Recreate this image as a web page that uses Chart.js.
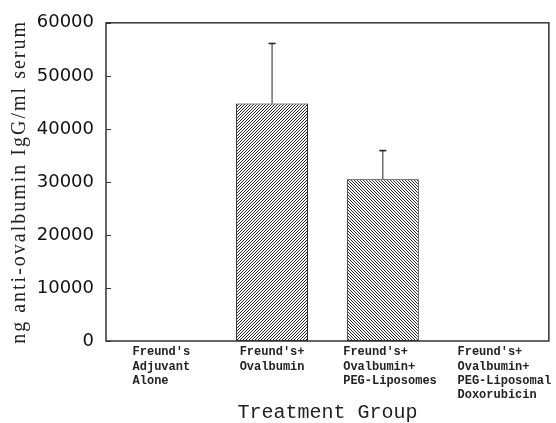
<!DOCTYPE html>
<html>
<head>
<meta charset="utf-8">
<script src="https://cdn.jsdelivr.net/npm/chart.js@4.4.1/dist/chart.umd.min.js"></script>
<style>
  html, body { margin: 0; padding: 0; background: #fff; }
  #wrap { width: 556px; height: 423px; }
</style>
</head>
<body>
<div id="wrap"><canvas id="c" width="556" height="423"></canvas></div>
<script>
// Treatment groups (multi-line labels, padded so the lines share a left edge)
const categories = [
  ["Freund's", "Adjuvant", "Alone   "],
  ["Freund's+", "Ovalbumin"],
  ["  Freund's+    ", "  Ovalbumin+   ", "  PEG-Liposomes"],
  ["   Freund's+    ", "   Ovalbumin+   ", "   PEG-Liposomal", "   Doxorubicin  "]
];
// Mean anti-ovalbumin IgG (ng/ml serum)
const meanValues = [0, 44800, 30500, 0];
// Upper error (standard deviation) above each mean
const errorValues = [0, 11300, 5400, 0];
// Hatch direction for each bar: '/' or '\\'
const hatchDirs = ['/', '/', '\\', '\\'];
const yTickValues = [0, 10000, 20000, 30000, 40000, 50000, 60000];

function hatch(dir) {
  const s = 3;
  const c = document.createElement('canvas');
  c.width = s; c.height = s;
  const g = c.getContext('2d');
  const img = g.createImageData(s, s);
  for (let y = 0; y < s; y++) {
    for (let x = 0; x < s; x++) {
      const on = dir === '/' ? ((x + y) % s === 0) : (((x - y) % s + s) % s === 0);
      const v = on ? 40 : 250;
      const i = (y * s + x) * 4;
      img.data[i] = v; img.data[i + 1] = v; img.data[i + 2] = v; img.data[i + 3] = 255;
    }
  }
  g.putImageData(img, 0, 0);
  return g.createPattern(c, 'repeat');
}

// Wider letter spacing for the value-axis title
const spacedTitle = {
  id: 'spacedTitle',
  beforeDraw(chart) {
    const s = chart.scales.y;
    if (s._spacedPatch) return;
    const orig = s.drawTitle;
    s.drawTitle = function () {
      const ctx = this.ctx;
      const prev = ctx.letterSpacing;
      ctx.letterSpacing = '2px';
      orig.apply(this, arguments);
      ctx.letterSpacing = prev || '0px';
    };
    s._spacedPatch = true;
  }
};

// Frame, inward y ticks and upward error bars
const decor = {
  id: 'decor',
  afterDatasetsDraw(chart) {
    const ctx = chart.ctx;
    const a = chart.chartArea;
    const x = chart.scales.x, y = chart.scales.y;
    ctx.save();
    // error bars
    meanValues.forEach((m, i) => {
      const e = errorValues[i];
      if (!e) return;
      const px = x.getPixelForValue(i);
      const y0 = y.getPixelForValue(m);
      const y1 = y.getPixelForValue(m + e);
      ctx.strokeStyle = '#555';
      ctx.lineWidth = 1.3;
      ctx.beginPath();
      ctx.moveTo(px, y0); ctx.lineTo(px, y1);
      ctx.stroke();
      ctx.strokeStyle = '#222';
      ctx.lineWidth = 1.6;
      ctx.beginPath();
      ctx.moveTo(px - 3.5, y1); ctx.lineTo(px + 3.5, y1);
      ctx.stroke();
    });
    // frame
    ctx.strokeStyle = '#333';
    ctx.lineWidth = 1.5;
    ctx.strokeRect(a.left, a.top, a.right - a.left, a.bottom - a.top);
    // inward ticks on the value axis
    ctx.lineWidth = 1;
    yTickValues.forEach(v => {
      const py = Math.round(y.getPixelForValue(v)) + 0.5;
      ctx.beginPath();
      ctx.moveTo(a.left, py); ctx.lineTo(a.left + 5, py);
      ctx.stroke();
    });
    ctx.restore();
  }
};

new Chart(document.getElementById('c'), {
  type: 'bar',
  data: {
    labels: categories,
    datasets: [{
      data: meanValues,
      backgroundColor: hatchDirs.map(hatch),
      borderColor: '#111',
      borderWidth: 1,
      borderSkipped: false,
      barPercentage: 0.65,
      categoryPercentage: 1.0
    }]
  },
  options: {
    responsive: false,
    animation: false,
    devicePixelRatio: 1,
    layout: { padding: { top: 22, right: 7, bottom: 0, left: 0 } },
    plugins: { legend: { display: false }, tooltip: { enabled: false } },
    scales: {
      x: {
        grid: { display: false, drawTicks: false },
        border: { display: false },
        afterFit(s) { s.height = 82; },
        ticks: {
          color: '#222',
          padding: 4,
          maxRotation: 0,
          minRotation: 0,
          autoSkip: false,
          font: { family: 'Liberation Mono', size: 12, weight: 'bold', lineHeight: 1.2 }
        },
        title: {
          display: true,
          text: 'Treatment Group',
          color: '#222',
          padding: { top: 0, bottom: 0 },
          font: { family: 'Liberation Mono', size: 20, lineHeight: 1 }
        }
      },
      y: {
        min: 0,
        max: 60000,
        afterFit(s) { s.width = 106; },
        afterBuildTicks(s) { s.ticks = yTickValues.map(v => ({ value: v })); },
        grid: { display: false, drawTicks: false },
        border: { display: false },
        ticks: {
          color: '#111',
          padding: 12,
          callback: v => String(v),
          font: { family: 'DejaVu Sans', size: 18 }
        },
        title: {
          display: true,
          text: 'ng anti-ovalbumin IgG/ml serum',
          color: '#222',
          padding: { top: 8, bottom: 0 },
          font: { family: 'Liberation Serif', size: 20, lineHeight: 1.2 }
        }
      }
    }
  },
  plugins: [spacedTitle, decor]
});
</script>
</body>
</html>
